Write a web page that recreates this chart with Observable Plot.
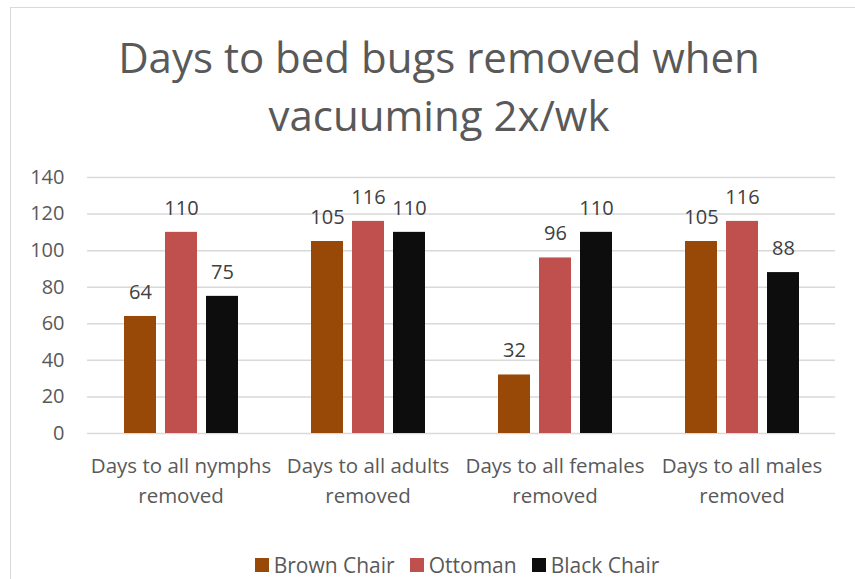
<!DOCTYPE html>
<html><head><meta charset="utf-8">
<script src="https://cdn.jsdelivr.net/npm/d3@7"></script>
<script src="https://cdn.jsdelivr.net/npm/@observablehq/plot@0.6"></script>
<style>
body{margin:0;background:#fff;font-family:"Open Sans",sans-serif;}
#wrap{position:relative;width:855px;height:579px;overflow:hidden;background:#fff;}
#border{position:absolute;left:10px;top:7px;width:900px;height:650px;border:1.5px solid #d9d9d9;box-sizing:border-box;}
#title{position:absolute;left:0;top:28px;width:878px;text-align:center;color:#595959;font-size:42px;line-height:58px;}
#chart{position:absolute;left:0;top:160px;}
#legend{position:absolute;top:551px;left:0;width:914px;display:flex;justify-content:center;align-items:center;color:#595959;font-size:21px;line-height:28px;}
.item{display:flex;align-items:center;margin:0 7.5px;}
.sw{width:14px;height:14px;margin-right:5px;}
</style></head>
<body>
<div id="wrap">
  <div id="border"></div>
  <div id="title">Days to bed bugs removed when<br>vacuuming 2x/wk</div>
  <div id="chart"></div>
  <div id="legend"></div>
</div>
<script>
const categories = ["Days to all nymphs removed","Days to all adults removed","Days to all females removed","Days to all males removed"];
const categoryLines = ["Days to all nymphs\nremoved","Days to all adults\nremoved","Days to all females\nremoved","Days to all males\nremoved"];
const series = ["Brown Chair","Ottoman","Black Chair"];
const colors = ["#984807","#C0504D","#0D0D0D"];
const brownChair = [64,105,32,105];
const ottoman = [110,116,96,116];
const blackChair = [75,110,110,88];
const yTicks = [0,20,40,60,80,100,120,140];

const valuesBySeries = [brownChair, ottoman, blackChair];
const data = [];
categories.forEach((c,i)=>series.forEach((s,j)=>data.push({category:c, series:s, value:valuesBySeries[j][i]})));

const chart = Plot.plot({
  width: 855, height: 350,
  marginLeft: 86, marginRight: 19, marginTop: 17, marginBottom: 77,
  style: {fontFamily: '"Open Sans", sans-serif', background: "transparent"},
  fx: {domain: categories, padding: 0, axis: null},
  x: {domain: series, paddingInner: 0.229, paddingOuter: 0.86, axis: null},
  y: {domain: [0,140], ticks: yTicks, axis: null},
  color: {domain: series, range: colors},
  marks: [
    Plot.ruleY(yTicks, {stroke: "#d9d9d9", strokeWidth: 1.5}),
    Plot.axisY({ticks: yTicks, tickSize: 0, tickPadding: 23, fontSize: 20, fill: "#595959", label: null, facetAnchor: "left", frameAnchor: "left"}),
    Plot.barY(data, {fx: "category", x: "series", y: "value", fill: "series"}),
    Plot.text(data, {fx: "category", x: "series", y: "value", text: d => String(d.value), dy: -24, fontSize: 20, fill: "#404040"}),
    Plot.text(categories, {fx: d => d, text: (d,i) => categoryLines[i], frameAnchor: "bottom", lineAnchor: "top", dy: 18, fontSize: 20.5, lineHeight: 1.46, fill: "#595959"})
  ]
});
document.getElementById("chart").appendChild(chart);

const leg = document.getElementById("legend");
series.forEach((s,i)=>{
  const it = document.createElement("div"); it.className="item";
  const sw = document.createElement("div"); sw.className="sw"; sw.style.background=colors[i];
  const t = document.createElement("span"); t.textContent=s;
  it.appendChild(sw); it.appendChild(t); leg.appendChild(it);
});
</script>
</body></html>
